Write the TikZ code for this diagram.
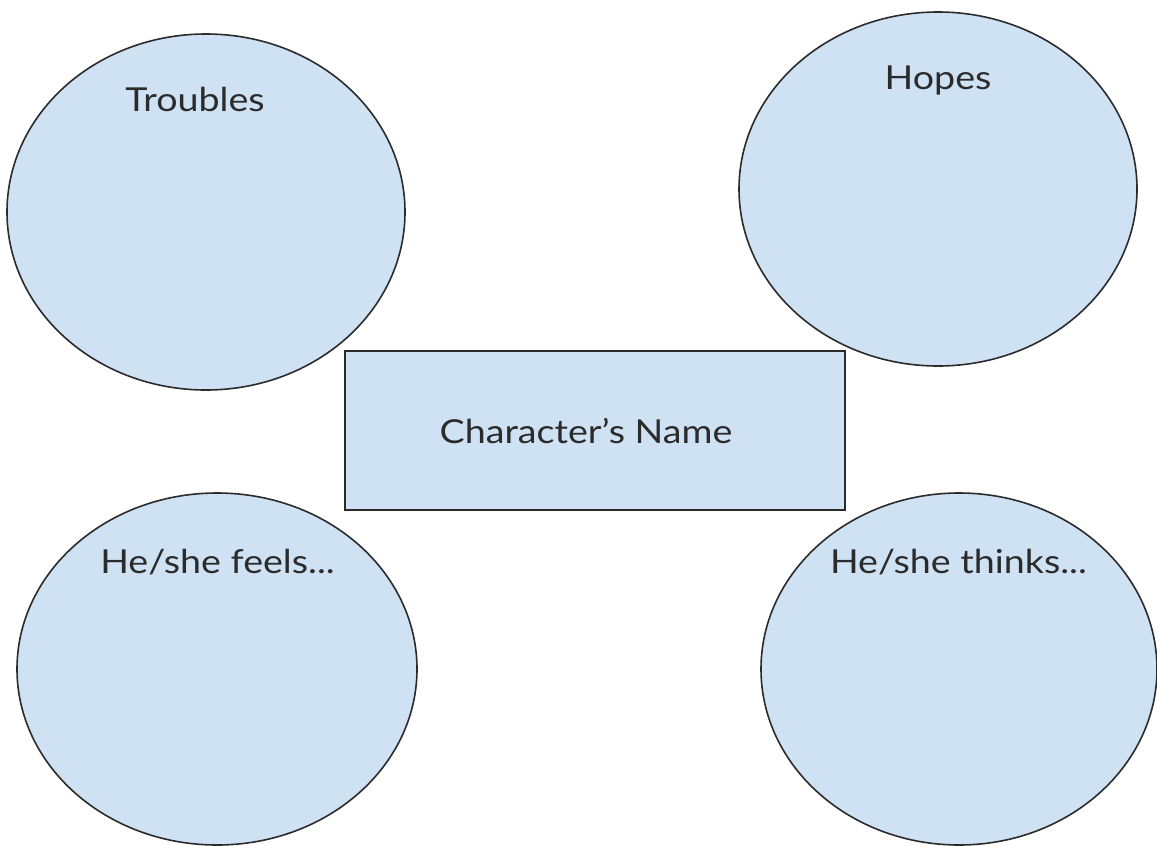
\documentclass[tikz,border=0pt]{standalone}
\usepackage{fontspec}
\setmainfont{Lato}[FakeStretch=1.14]
\usepackage{tikz}
\usetikzlibrary{positioning, shapes.geometric}

\definecolor{bubblefill}{HTML}{CFE2F3}
\definecolor{inkgrey}{HTML}{2B2B2B}

\begin{document}
\begin{tikzpicture}[x=1pt, y=-1pt, line width=1.6pt,
    bubble/.style={draw=inkgrey, fill=bubblefill, ellipse, inner sep=0pt},
    namebox/.style={draw=inkgrey, fill=bubblefill, rectangle, inner sep=0pt, minimum width=500pt, minimum height=159pt},
    lbl/.style={text=inkgrey, font=\fontsize{33}{36}\selectfont, anchor=base, inner sep=0pt}]
    \useasboundingbox (0,0) rectangle (1157,846);

    % Define the four thought bubbles
    \node (Etroubles) [bubble, minimum width=398pt, minimum height=356pt] at (206,212) {};  % top left
    \node (Ehopes) [bubble, minimum width=398pt, minimum height=354pt] at (938,189) {};  % top right
    \node (Efeels) [bubble, minimum width=400pt, minimum height=352pt] at (217,669) {};  % bottom left
    \node (Ethinks) [bubble, minimum width=396pt, minimum height=352pt] at (959,669) {};  % bottom right

    % Centre box
    \node (Bname) [namebox] at (595,430.5) {};

    % Labels
    \node (Ltroubles) [lbl] at (195,111) {Troubles};
    \node (Lhopes) [lbl] at (938,89) {Hopes};
    \node (Lfeels) [lbl] at (217.5,573) {He/she feels...};
    \node (Lthinks) [lbl] at (958.5,573) {He/she thinks...};
    \node (Lname) [lbl] at (586,443) {Character’s Name};
\end{tikzpicture}
\end{document}
